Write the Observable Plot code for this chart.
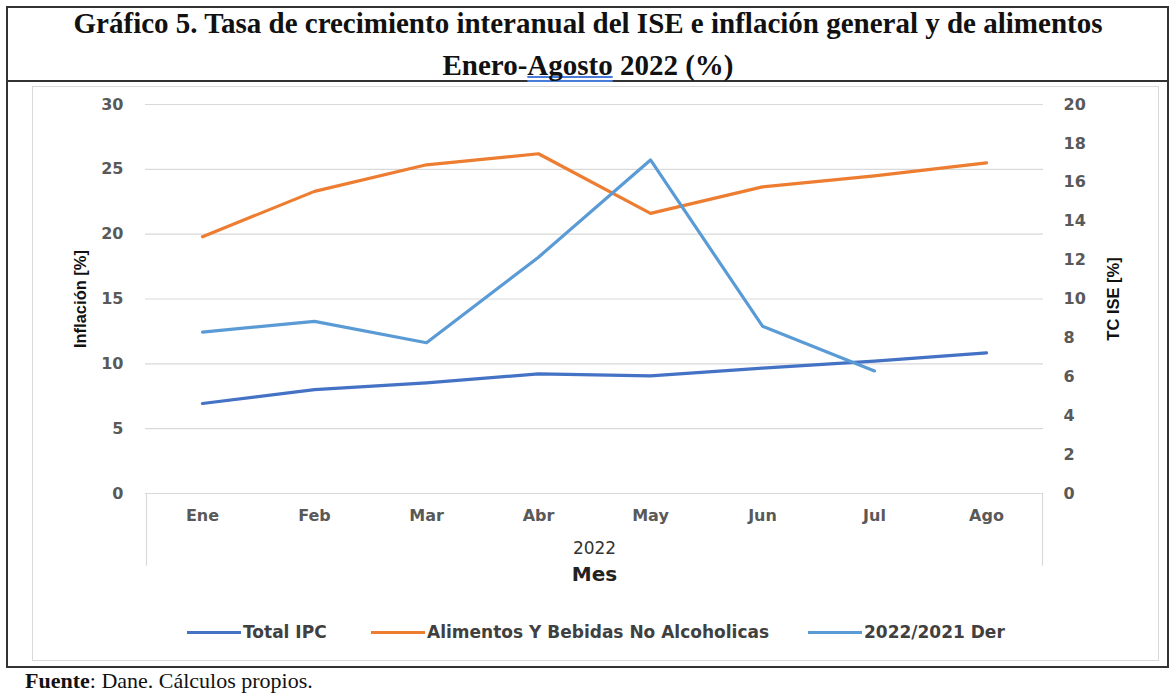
<!DOCTYPE html>
<html>
<head>
<meta charset="utf-8">
<script src="https://cdn.jsdelivr.net/npm/d3@7"></script>
<script src="https://cdn.jsdelivr.net/npm/@observablehq/plot@0.6"></script>
<style>
  html, body { margin: 0; padding: 0; background: #fff; }
  #page { position: relative; width: 1171px; height: 697px; overflow: hidden; background: #fff; }
  .abs { position: absolute; }
  #title { left: 8px; top: 2px; width: 1160px; text-align: center; font-family: "Liberation Serif", serif; font-weight: bold; font-size: 29px; line-height: 42px; color: #111; }
  #title u { text-decoration: underline double #4a7bd8; text-decoration-skip-ink: none; text-underline-offset: 1px; }
  .legend-item { position: absolute; top: 621px; height: 22px; display: flex; align-items: center; font-family: "DejaVu Sans", sans-serif; font-weight: bold; font-size: 17px; color: #404040; white-space: nowrap; }
  .legend-item span.sw { display: inline-block; width: 54px; height: 3px; margin-right: 2px; }
  #caption { left: 25px; top: 668px; font-family: "Liberation Serif", serif; font-size: 22px; color: #111; }
</style>
</head>
<body>
<div id="page">
  <!-- outer frame -->
  <div class="abs" style="left:6px;top:6px;width:1163px;height:2px;background:#333"></div>
  <div class="abs" style="left:6px;top:6px;width:2px;height:662px;background:#333"></div>
  <div class="abs" style="left:1167px;top:6px;width:2px;height:662px;background:#333"></div>
  <div class="abs" style="left:6px;top:80px;width:1163px;height:2px;background:#333"></div>
  <div class="abs" style="left:6px;top:666px;width:1163px;height:2px;background:#333"></div>
  <div id="title" class="abs">Gráfico 5. Tasa de crecimiento interanual del ISE e inflación general y de alimentos<br>Enero-<u>Agosto</u> 2022 (%)</div>
  <!-- chart area box -->
  <div class="abs" style="left:32px;top:86px;width:1125px;height:573px;border:1px solid #d9d9d9"></div>
  <div id="chart" class="abs" style="left:32px;top:85px"></div>
  <div id="legend"></div>
  <div id="caption" class="abs"><b>Fuente</b>: Dane. Cálculos propios.</div>
</div>
<script>
// ---- data ----
const meses = ["Ene", "Feb", "Mar", "Abr", "May", "Jun", "Jul", "Ago"];
const totalIPC = [6.94, 8.01, 8.53, 9.23, 9.07, 9.67, 10.21, 10.84];
const alimentos = [19.8, 23.3, 25.35, 26.2, 21.6, 23.65, 24.5, 25.5];
const ise = [8.3, 8.85, 7.75, 12.15, 17.15, 8.6, 6.3]; // Jul is the last available month
const leftTicks = [0, 5, 10, 15, 20, 25, 30];
const rightTicks = [0, 2, 4, 6, 8, 10, 12, 14, 16, 18, 20];
const seriesNames = ["Total IPC", "Alimentos Y Bebidas No Alcoholicas", "2022/2021 Der"];
const colors = ["#4472C4", "#ED7D31", "#5B9BD5"];

const ratio = 30 / 20; // right axis (0-20) mapped onto left axis (0-30)

const ipcData = meses.map((m, i) => ({mes: m, v: totalIPC[i]}));
const aliData = meses.map((m, i) => ({mes: m, v: alimentos[i]}));
const iseData = ise.map((v, i) => ({mes: meses[i], v}));

const tickStyle = {fontFamily: "DejaVu Sans, sans-serif", fontWeight: "bold", fontSize: 16, fill: "#595959"};
const titleStyle = {fontFamily: "Liberation Sans, sans-serif", fontWeight: "bold", fontSize: 16.5, fill: "#111", textAnchor: "middle", rotate: -90};

const chart = Plot.plot({
  width: 1126,
  height: 515,
  marginLeft: 113,
  marginRight: 115,
  marginTop: 19,
  marginBottom: 107,
  style: {fontFamily: "DejaVu Sans, sans-serif", background: "transparent", overflow: "visible"},
  x: {type: "point", domain: meses, padding: 0.5},
  y: {domain: [0, 30]},
  marks: [
    Plot.ruleY(leftTicks, {stroke: "#d9d9d9", strokeWidth: 1.2}),
    // category-axis box edges
    Plot.ruleX([meses[0]], {x: d => d, y1: 0, y2: -5.6, dx: -56, stroke: "#d9d9d9", strokeWidth: 1.2, clip: false}),
    Plot.ruleX([meses[meses.length - 1]], {x: d => d, y1: 0, y2: -5.6, dx: 56, stroke: "#d9d9d9", strokeWidth: 1.2, clip: false}),
    Plot.axisY(leftTicks, {anchor: "left", tickSize: 0, tickPadding: 22, label: null, ...tickStyle}),
    Plot.axisY(rightTicks.map(t => t * ratio), {anchor: "right", tickSize: 0, tickPadding: 20, label: null, tickFormat: d => String(Math.round(d / ratio)), textAnchor: "start", ...tickStyle}),
    Plot.axisX({tickSize: 0, tickPadding: 16, label: null, ...tickStyle}),
    Plot.text(["Inflación [%]"], {frameAnchor: "left", dx: -65, ...titleStyle}),
    Plot.text(["TC ISE [%]"], {frameAnchor: "right", dx: 70, ...titleStyle}),
    Plot.text(["2022"], {frameAnchor: "bottom", dy: 60, fontFamily: "DejaVu Sans, sans-serif", fontSize: 17, fill: "#333"}),
    Plot.text(["Mes"], {frameAnchor: "bottom", dy: 87, fontFamily: "DejaVu Sans, sans-serif", fontWeight: "bold", fontSize: 20, fill: "#222"}),
    Plot.line(ipcData, {x: "mes", y: "v", stroke: colors[0], strokeWidth: 3.2}),
    Plot.line(aliData, {x: "mes", y: "v", stroke: colors[1], strokeWidth: 3.2}),
    Plot.line(iseData, {x: "mes", y: d => d.v * ratio, stroke: colors[2], strokeWidth: 3.2})
  ]
});
document.getElementById("chart").appendChild(chart);

// legend
const legendLeft = [187, 371, 808];
const legend = document.getElementById("legend");
seriesNames.forEach((name, i) => {
  const item = document.createElement("div");
  item.className = "legend-item";
  item.style.left = legendLeft[i] + "px";
  const sw = document.createElement("span");
  sw.className = "sw";
  sw.style.background = colors[i];
  item.appendChild(sw);
  item.appendChild(document.createTextNode(name));
  legend.appendChild(item);
});
</script>
</body>
</html>
